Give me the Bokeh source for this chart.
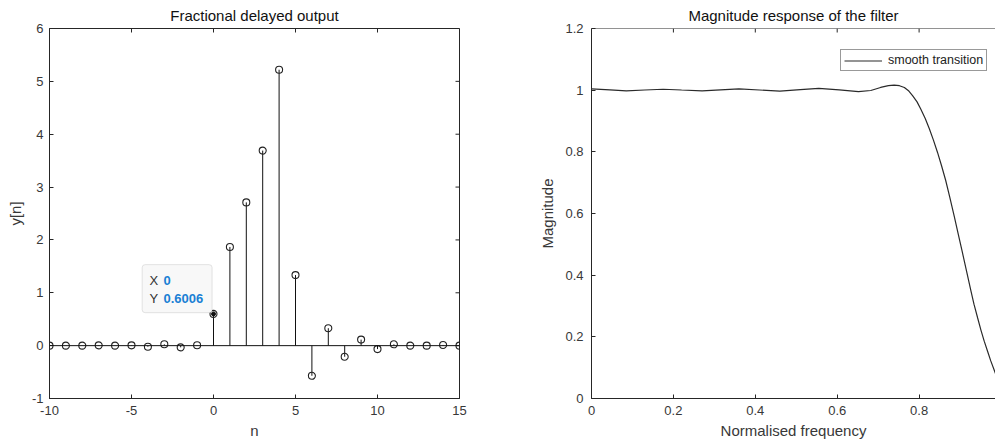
from bokeh.plotting import figure
from bokeh.layouts import row
from bokeh.models import FixedTicker, Span, BoxAnnotation, Label, Range1d
from bokeh.embed import file_html
from bokeh.resources import INLINE

# ---------------- data ----------------
n = list(range(-10, 16))
y_n = [0.0, 0.0, 0.0, 0.006, 0.0, 0.006, -0.02, 0.025, -0.032, 0.008,
       0.6006, 1.867, 2.71, 3.69, 5.22, 1.335, -0.57, 0.33, -0.21, 0.114,
       -0.065, 0.025, 0.0, 0.0, 0.013, 0.0]
tip_index = 10  # data tip on n = 0

left_xticks = [-10, -5, 0, 5, 10, 15]
left_xlabels = ["-10", "-5", "0", "5", "10", "15"]
left_yticks = [-1, 0, 1, 2, 3, 4, 5, 6]
left_ylabels = ["-1", "0", "1", "2", "3", "4", "5", "6"]

freq = [0, 0.045, 0.085, 0.13, 0.175, 0.22, 0.27, 0.315, 0.36, 0.41, 0.46,
        0.51, 0.555, 0.605, 0.652, 0.682, 0.706, 0.725, 0.739, 0.752, 0.764,
        0.775, 0.784, 0.795, 0.804, 0.815, 0.825, 0.835, 0.845, 0.855, 0.865,
        0.875, 0.886, 0.896, 0.906, 0.916, 0.926, 0.934, 0.943, 0.951, 0.959,
        0.967, 0.975, 0.987]
mag = [1.004, 1.001, 0.998, 1.0005, 1.003, 1.0005, 0.998, 1.001, 1.004, 1.0005,
       0.997, 1.002, 1.006, 1.001, 0.995, 0.999, 1.0088, 1.0145, 1.0165, 1.0145,
       1.0085, 0.997, 0.982, 0.962, 0.939, 0.908, 0.875, 0.838, 0.798, 0.754,
       0.707, 0.652, 0.590, 0.531, 0.472, 0.412, 0.352, 0.306, 0.261, 0.222,
       0.186, 0.154, 0.122, 0.079]
right_xticks = [0, 0.2, 0.4, 0.6, 0.8, 1.0]
right_xlabels = ["0", "0.2", "0.4", "0.6", "0.8", "1"]
right_yticks = [0, 0.2, 0.4, 0.6, 0.8, 1.0, 1.2]
right_ylabels = ["0", "0.2", "0.4", "0.6", "0.8", "1", "1.2"]

FONT = "Liberation Sans"
AX = "#262626"
TXT = "#383838"
TICK_PX = 4

# layout (px)
L_BORDER, L_FRAME_W, L_RIGHT = 49, 410, 70
R_BORDER = 62
TOP, FRAME_H = 28, 370
TOTAL_W, TOTAL_H = 995, 443
W1 = L_BORDER + L_FRAME_W + L_RIGHT
W2 = TOTAL_W - W1
R_FRAME_W = W2 - R_BORDER
BOTTOM = TOTAL_H - TOP - FRAME_H
R_XPX_PER_UNIT = 409.5


def style_axis(ax, ticks, labels):
    ax.ticker = FixedTicker(ticks=ticks)
    ax.major_label_overrides = {t: l for t, l in zip(ticks, labels)}
    ax.major_tick_in = TICK_PX
    ax.major_tick_out = 0
    ax.minor_tick_line_color = None
    ax.major_tick_line_color = AX
    ax.axis_line_color = AX
    ax.major_label_text_font = FONT
    ax.major_label_text_font_size = "13px"
    ax.major_label_text_color = TXT
    ax.axis_label_text_font = FONT
    ax.axis_label_text_font_size = "15px"
    ax.axis_label_text_font_style = "normal"
    ax.axis_label_text_color = TXT


def style_title(p):
    p.title.text_font = FONT
    p.title.text_font_size = "15px"
    p.title.text_font_style = "normal"
    p.title.text_color = "#111111"
    p.title.align = "center"
    p.title.standoff = 9


def mirror_ticks(p, xticks, yticks, xr, yr, frame_w, frame_h, right=True):
    dx = TICK_PX * (xr[1] - xr[0]) / frame_w
    dy = TICK_PX * (yr[1] - yr[0]) / frame_h
    # ticks on top edge
    p.segment(x0=xticks, y0=[yr[1]] * len(xticks), x1=xticks,
              y1=[yr[1] - dy] * len(xticks), line_color=AX, line_width=1)
    if right:
        p.segment(x0=[xr[1]] * len(yticks), y0=yticks, x1=[xr[1] - dx] * len(yticks),
                  y1=yticks, line_color=AX, line_width=1)


# ---------------- left: stem plot ----------------
lxr, lyr = (-10, 15), (-1, 6)
p1 = figure(width=W1, height=TOTAL_H, output_backend="svg", toolbar_location=None,
            x_range=Range1d(*lxr), y_range=Range1d(*lyr),
            title="Fractional delayed output",
            min_border_left=L_BORDER, min_border_right=L_RIGHT,
            min_border_top=TOP, min_border_bottom=BOTTOM)
p1.grid.visible = False
p1.outline_line_color = AX
p1.background_fill_color = "white"
p1.border_fill_color = "white"
style_title(p1)
p1.xaxis.axis_label = "n"
p1.yaxis.axis_label = "y[n]"
style_axis(p1.xaxis[0], left_xticks, left_xlabels)
style_axis(p1.yaxis[0], left_yticks, left_ylabels)
p1.xaxis.major_label_standoff = 7
p1.xaxis.axis_label_standoff = 4
p1.yaxis.major_label_standoff = 6
p1.yaxis.axis_label_standoff = 5
mirror_ticks(p1, left_xticks, left_yticks, lxr, lyr, L_FRAME_W, FRAME_H)

p1.add_layout(Span(location=0, dimension="width", line_color="#111111", line_width=1))
p1.segment(x0=n, y0=[0] * len(n), x1=n, y1=y_n, line_color="#111111", line_width=1)
p1.scatter(n, y_n, marker="circle", size=7, fill_color=None, line_color="#222222", line_width=1.1)

# data tip
x0, y0 = n[tip_index], y_n[tip_index]
p1.scatter([x0], [y0], marker="circle", size=4, fill_color="#111111", line_color="#111111")
p1.add_layout(BoxAnnotation(left=x0 - 4.35, right=x0 - 0.085, bottom=y0 + 0.023, top=y0 + 0.932,
                            fill_color="#f8f8f8", fill_alpha=1, line_color="#a8a8a8",
                            line_width=1, border_radius=3))
lab_kw = dict(x=x0, y=y0, x_units="data", y_units="data", text_font=FONT,
              text_font_size="13px", text_baseline="middle", text_align="left")
p1.add_layout(Label(text="X", x_offset=-64, y_offset=33, text_color="#333333", **lab_kw))
p1.add_layout(Label(text=str(n[tip_index]), x_offset=-50, y_offset=33, text_color="#1a7fd4",
                    text_font_style="bold", **lab_kw))
p1.add_layout(Label(text="Y", x_offset=-64, y_offset=15.5, text_color="#333333", **lab_kw))
p1.add_layout(Label(text=f"{y_n[tip_index]:.4f}", x_offset=-50, y_offset=15.5, text_color="#1a7fd4",
                    text_font_style="bold", **lab_kw))

# ---------------- right: magnitude response ----------------
rxr, ryr = (0, R_FRAME_W / R_XPX_PER_UNIT), (0, 1.2)
p2 = figure(width=W2, height=TOTAL_H, output_backend="svg", toolbar_location=None,
            x_range=Range1d(*rxr), y_range=Range1d(*ryr),
            title="Magnitude response of the filter",
            min_border_left=R_BORDER, min_border_right=0,
            min_border_top=TOP, min_border_bottom=BOTTOM)
p2.grid.visible = False
p2.outline_line_color = None
p2.background_fill_color = "white"
p2.border_fill_color = "white"
style_title(p2)
p2.xaxis.axis_label = "Normalised frequency"
p2.yaxis.axis_label = "Magnitude"
style_axis(p2.xaxis[0], right_xticks, right_xlabels)
style_axis(p2.yaxis[0], right_yticks, right_ylabels)
p2.xaxis.major_label_standoff = 7
p2.xaxis.axis_label_standoff = 4
p2.yaxis.major_label_standoff = 8
p2.yaxis.axis_label_standoff = 6
p2.add_layout(Span(location=ryr[1], dimension="width", line_color=AX, line_width=1))
mirror_ticks(p2, right_xticks, right_yticks, rxr, ryr, R_FRAME_W, FRAME_H, right=False)

p2.line(freq, mag, line_color="#2a2a2a", line_width=1.2, legend_label="smooth transition")
lg = p2.legend[0]
lg.location = (249, 327)
lg.label_text_font = FONT
lg.label_text_font_size = "12.5px"
lg.label_text_color = "#222222"
lg.glyph_width = 38
lg.glyph_height = 11
lg.label_height = 11
lg.label_standoff = 6
lg.padding = 3
lg.margin = 0
lg.spacing = 0
lg.border_line_color = "#333333"
lg.border_line_width = 1
lg.background_fill_color = "white"
lg.background_fill_alpha = 1

layout = row(p1, p2)
open("out.html", "w").write(file_html(layout, INLINE))
